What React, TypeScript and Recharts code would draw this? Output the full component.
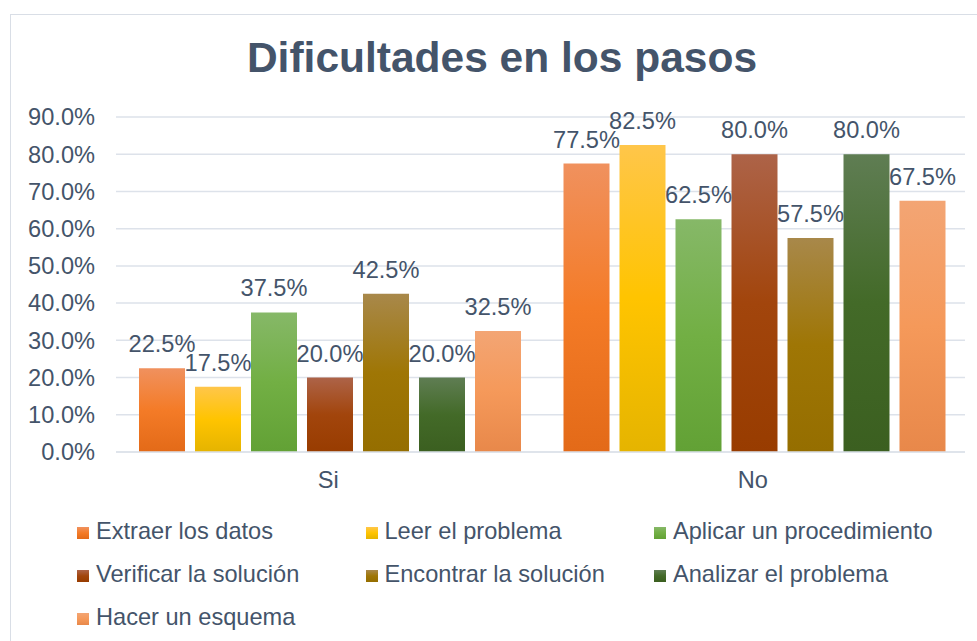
import { BarChart, Bar, XAxis, YAxis, CartesianGrid, LabelList } from "recharts";

const categories = ["Si", "No"];

const seriesNames = [
  "Extraer los datos",
  "Leer el problema",
  "Aplicar un procedimiento",
  "Verificar la solución",
  "Encontrar la solución",
  "Analizar el problema",
  "Hacer un esquema",
];

const extraerDatos = [22.5, 77.5];
const leerProblema = [17.5, 82.5];
const aplicarProcedimiento = [37.5, 62.5];
const verificarSolucion = [20.0, 80.0];
const encontrarSolucion = [42.5, 57.5];
const analizarProblema = [20.0, 80.0];
const hacerEsquema = [32.5, 67.5];

const yTicks = [0, 10, 20, 30, 40, 50, 60, 70, 80, 90];

const seriesValues = [
  extraerDatos,
  leerProblema,
  aplicarProcedimiento,
  verificarSolucion,
  encontrarSolucion,
  analizarProblema,
  hacerEsquema,
];

// top / middle / bottom of each bar's gradient
const gradients = [
  ["#F0915E", "#F47B27", "#E36A18"],
  ["#FFC64A", "#FFC400", "#E5B400"],
  ["#86B868", "#72AF44", "#62A135"],
  ["#AD6348", "#A2450C", "#983C00"],
  ["#A8884A", "#9F7605", "#956E00"],
  ["#5F7D53", "#436A28", "#3B5F20"],
  ["#F3A574", "#F5995A", "#E8884A"],
];

const data = categories.map((name, i) => {
  const row: Record<string, string | number> = { name };
  seriesValues.forEach((vals, s) => {
    row[`s${s}`] = vals[i];
  });
  return row;
});

const textColor = "#44546A";
const gridColor = "#DDE2EA";
const font = "'Liberation Sans', Arial, sans-serif";
const fs = 23.6;
const pct = (v: any) => `${Number(v).toFixed(1)}%`;

const App = () => {
  return (
    <div style={{ fontFamily: font }}>
      {/* chart frame */}
      <div
        style={{
          position: "absolute",
          left: 10,
          top: 14,
          width: 1000,
          height: 700,
          border: "1px solid #D9DEE6",
          boxSizing: "border-box",
        }}
      />

      <div
        style={{
          position: "absolute",
          left: 2,
          top: 37,
          width: 1000,
          textAlign: "center",
          fontSize: 42.5,
          lineHeight: "42px",
          fontWeight: "bold",
          color: textColor,
        }}
      >
        Dificultades en los pasos
      </div>

      <div style={{ position: "absolute", left: 0, top: 0 }}>
        <BarChart
          width={977}
          height={500}
          data={data}
          margin={{ top: 117, right: 12, left: 0, bottom: 0 }}
          barCategoryGap={23}
          barGap={10}
        >
          <defs>
            {gradients.map((g, i) => (
              <linearGradient key={i} id={`grad${i}`} x1="0" y1="0" x2="0" y2="1">
                <stop offset="0%" stopColor={g[0]} />
                <stop offset="50%" stopColor={g[1]} />
                <stop offset="100%" stopColor={g[2]} />
              </linearGradient>
            ))}
          </defs>
          <CartesianGrid vertical={false} stroke={gridColor} strokeWidth={1.5} />
          <XAxis
            dataKey="name"
            height={48}
            tickLine={false}
            tickMargin={13}
            axisLine={{ stroke: gridColor, strokeWidth: 1.5 }}
            tick={{ fill: textColor, fontSize: fs, fontFamily: font }}
          />
          <YAxis
            width={116}
            domain={[0, 90]}
            ticks={yTicks}
            interval={0}
            tickFormatter={pct}
            tickLine={false}
            axisLine={false}
            tickMargin={15}
            tick={{ fill: textColor, fontSize: fs, fontFamily: font }}
          />
          {seriesNames.map((name, i) => (
            <Bar key={name} dataKey={`s${i}`} name={name} fill={`url(#grad${i})`} isAnimationActive={false}>
              <LabelList
                dataKey={`s${i}`}
                position="top"
                offset={16}
                formatter={pct}
                fill={textColor}
                fontSize={fs}
                fontFamily={font}
              />
            </Bar>
          ))}
        </BarChart>
      </div>

      {/* legend */}
      <div
        style={{
          position: "absolute",
          left: 77,
          top: 519,
          width: 880,
          display: "flex",
          flexWrap: "wrap",
          rowGap: 19,
        }}
      >
        {seriesNames.map((name, i) => (
          <div
            key={name}
            style={{
              width: 288.5,
              display: "flex",
              alignItems: "center",
              fontSize: fs,
              lineHeight: "24px",
              color: textColor,
              whiteSpace: "nowrap",
            }}
          >
            <span
              style={{
                display: "inline-block",
                width: 12,
                height: 12,
                marginRight: 7,
                marginTop: 4,
                flexShrink: 0,
                background: `linear-gradient(${gradients[i][0]}, ${gradients[i][1]}, ${gradients[i][2]})`,
              }}
            />
            {name}
          </div>
        ))}
      </div>
    </div>
  );
};

export default App;
